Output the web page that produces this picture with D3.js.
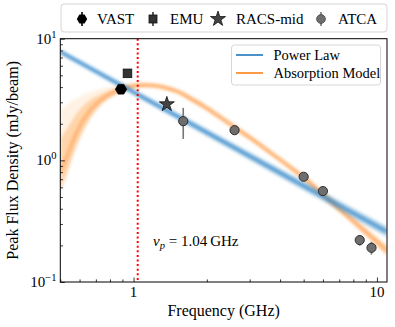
<!DOCTYPE html>
<html>
<head>
<meta charset="utf-8">
<script src="https://cdn.jsdelivr.net/npm/d3@7"></script>
<style>
  body { margin: 0; background: #fff; }
  svg { font-family: "Liberation Serif", "DejaVu Serif", serif; }
</style>
</head>
<body>
<div id="chart"></div>
<script>
// observations
var vastFreq = [0.888], vastFlux = [3.84];
var emuFreq = [0.944], emuFlux = [5.19];
var racsFreq = [1.37], racsFlux = [2.89], racsErr = [0.2];
var atcaFreq = [1.6, 2.6, 5.0, 6.0, 8.5, 9.5];
var atcaFlux = [2.1, 1.77, 0.733, 0.559, 0.221, 0.191];
var atcaErr = [0.6, 0.1, 0.04, 0.03, 0.022, 0.023];

// power law fit
var plFreq = [0.5, 11];
var plMid = [7.82, 0.259];
var plLo = [7.45, 0.236];
var plHi = [8.2, 0.285];

// absorption model band
var absFreq = [0.5, 0.53, 0.56, 0.6, 0.65, 0.7, 0.78, 0.89, 1.0, 1.1, 1.2, 1.35, 1.5, 1.7, 2.0, 2.3, 2.6, 3.0, 3.5, 4.2, 5.0, 6.0, 7.0, 8.5, 10, 11];
var absMid = [0.8, 1.05, 1.4, 1.9, 2.45, 2.9, 3.42, 3.84, 4.08, 4.15, 4.12, 3.95, 3.7, 3.25, 2.68, 2.22, 1.87, 1.54, 1.23, 0.94, 0.72, 0.523, 0.40, 0.285, 0.214, 0.181];
var absLo = [0.55, 0.75, 1.05, 1.5, 2.05, 2.55, 3.15, 3.62, 3.88, 3.97, 3.95, 3.78, 3.54, 3.09, 2.55, 2.11, 1.78, 1.46, 1.17, 0.893, 0.678, 0.49, 0.374, 0.265, 0.197, 0.165];
var absHi = [1.5, 1.8, 2.15, 2.6, 3.05, 3.35, 3.7, 4.05, 4.28, 4.34, 4.3, 4.13, 3.87, 3.43, 2.83, 2.34, 1.97, 1.62, 1.3, 0.99, 0.766, 0.558, 0.428, 0.306, 0.232, 0.198];
var absFaint = [2.6, 2.85, 3.1, 3.35, 3.6, 3.8, 4.0, 4.2, 4.35, 4.4, 4.35, 4.18, 3.92, 3.47, 2.86, 2.37, 2.0, 1.64, 1.31, 1.0, 0.775, 0.565, 0.433, 0.31, 0.235, 0.2];

var nuPeak = 1.04;
var xTicksMajor = [1, 10];
var yTicksMajor = [0.1, 1, 10];
var yTickExp = ["\u22121", "0", "1"];

var W = 395, H = 327;
var pLeft = 60.3, pRight = 387, pTop = 38.7, pBottom = 282;

var svg = d3.select("#chart").append("svg")
    .attr("width", W)
    .attr("height", H);

var defs = svg.append("defs");
defs.append("filter").attr("id", "blur").attr("x", "-5%").attr("y", "-20%").attr("width", "110%").attr("height", "140%")
  .append("feGaussianBlur").attr("stdDeviation", 1.4);
defs.append("clipPath").attr("id", "clip")
  .append("rect").attr("x", pLeft).attr("y", pTop).attr("width", pRight - pLeft).attr("height", pBottom - pTop);

var x = d3.scaleLog().domain([0.5, 11]).range([pLeft, pRight]);
var y = d3.scaleLog().domain([0.1, 10]).range([pBottom, pTop]);

var plot = svg.append("g").attr("clip-path", "url(#clip)");

function pts(fr, vals) { return fr.map(function(f, i) { return [f, vals[i]]; }); }
var line = d3.line().x(function(d) { return x(d[0]); }).y(function(d) { return y(d[1]); }).curve(d3.curveMonotoneX);
function band(fr, lo, hi) {
  return d3.area()
    .x(function(d) { return x(d[0]); })
    .y0(function(d) { return y(d[1]); })
    .y1(function(d) { return y(d[2]); })
    .curve(d3.curveMonotoneX)(fr.map(function(f, i) { return [f, lo[i], hi[i]]; }));
}

// absorption model
var orange = "#ff7f0e";
var gOr = plot.append("g").attr("filter", "url(#blur)");
gOr.append("path").attr("d", band(absFreq, absLo, absFaint)).attr("fill", orange).attr("opacity", 0.1);
gOr.append("path").attr("d", band(absFreq, absLo, absHi)).attr("fill", orange).attr("opacity", 0.26);
gOr.append("path").attr("d", line(pts(absFreq, absMid))).attr("fill", "none")
  .attr("stroke", orange).attr("stroke-width", 3).attr("opacity", 0.42);

// power law
var blue = "#1f77b4";
var gBl = plot.append("g").attr("filter", "url(#blur)");
gBl.append("path").attr("d", band(plFreq, plLo, plHi)).attr("fill", blue).attr("opacity", 0.35);
gBl.append("path").attr("d", line(pts(plFreq, plMid))).attr("fill", "none")
  .attr("stroke", "#3b8ed0").attr("stroke-width", 3.5).attr("opacity", 0.75);

// peak frequency
plot.append("line")
  .attr("x1", x(nuPeak)).attr("x2", x(nuPeak))
  .attr("y1", pTop).attr("y2", pBottom)
  .attr("stroke", "#ff0000").attr("stroke-width", 2)
  .attr("stroke-dasharray", "2,2.6");

svg.append("text")
  .attr("x", 153).attr("y", 246)
  .attr("font-size", 15)
  .html('<tspan font-style="italic">\u03bd</tspan><tspan font-style="italic" font-size="10.5" dy="3">p</tspan><tspan dy="-3"> = 1.04\u2009GHz</tspan>');

// markers
function hexPath(r) {
  var p = d3.path();
  for (var k = 0; k < 6; k++) {
    var a = Math.PI / 180 * (60 * k);
    if (k === 0) p.moveTo(r * Math.cos(a), r * Math.sin(a)); else p.lineTo(r * Math.cos(a), r * Math.sin(a));
  }
  p.closePath();
  return p.toString();
}
var errCol = "#777777";

// ATCA error bars
svg.append("g").selectAll("line")
  .data(pts(atcaFreq, atcaFlux))
  .enter().append("line")
    .attr("x1", function(d) { return x(d[0]); })
    .attr("x2", function(d) { return x(d[0]); })
    .attr("y1", function(d, i) { return y(d[1] + atcaErr[i]); })
    .attr("y2", function(d, i) { return y(d[1] - atcaErr[i]); })
    .attr("stroke", errCol).attr("stroke-width", 1.6);

svg.append("g").selectAll("line")
  .data(pts(racsFreq, racsFlux))
  .enter().append("line")
    .attr("x1", function(d) { return x(d[0]); })
    .attr("x2", function(d) { return x(d[0]); })
    .attr("y1", function(d, i) { return y(d[1] + racsErr[i]); })
    .attr("y2", function(d, i) { return y(d[1] - racsErr[i]); })
    .attr("stroke", errCol).attr("stroke-width", 1.6);

svg.append("g").selectAll("path")
  .data(pts(vastFreq, vastFlux))
  .enter().append("path")
    .attr("transform", function(d) { return "translate(" + x(d[0]) + "," + y(d[1]) + ")"; })
    .attr("d", hexPath(5.6))
    .attr("fill", "#000").attr("stroke", "#000").attr("stroke-width", 0.8);

svg.append("g").selectAll("rect")
  .data(pts(emuFreq, emuFlux))
  .enter().append("rect")
    .attr("x", function(d) { return x(d[0]) - 4.3; })
    .attr("y", function(d) { return y(d[1]) - 4.3; })
    .attr("width", 8.6).attr("height", 8.6)
    .attr("fill", "#333").attr("stroke", "#111").attr("stroke-width", 0.8);

svg.append("g").selectAll("path")
  .data(pts(racsFreq, racsFlux))
  .enter().append("path")
    .attr("transform", function(d) { return "translate(" + x(d[0]) + "," + y(d[1]) + ")"; })
    .attr("d", d3.symbol(d3.symbolStar, 70)())
    .attr("fill", "#444").attr("stroke", "#111").attr("stroke-width", 0.8);

svg.append("g").selectAll("circle")
  .data(pts(atcaFreq, atcaFlux))
  .enter().append("circle")
    .attr("cx", function(d) { return x(d[0]); })
    .attr("cy", function(d) { return y(d[1]); })
    .attr("r", 4.6)
    .attr("fill", "#6e6e6e").attr("stroke", "#222").attr("stroke-width", 0.9);

// axes
var minorX = [0.5, 0.6, 0.7, 0.8, 0.9, 2, 3, 4, 5, 6, 7, 8, 9];
var minorY = [];
[0.1, 1].forEach(function(b) { for (var k = 2; k <= 9; k++) minorY.push(b * k); });

svg.append("g").attr("transform", "translate(0," + pBottom + ")")
  .call(d3.axisBottom(x).tickValues(xTicksMajor).tickSize(-4.5).tickFormat(""))
  .call(function(g) { g.select(".domain").remove(); });
svg.append("g").attr("transform", "translate(0," + pBottom + ")")
  .call(d3.axisBottom(x).tickValues(minorX).tickSize(-2.6).tickFormat(""))
  .call(function(g) { g.select(".domain").remove(); });
svg.append("g").attr("transform", "translate(" + pLeft + ",0)")
  .call(d3.axisLeft(y).tickValues(yTicksMajor).tickSize(-4.5).tickFormat(""))
  .call(function(g) { g.select(".domain").remove(); });
svg.append("g").attr("transform", "translate(" + pLeft + ",0)")
  .call(d3.axisLeft(y).tickValues(minorY).tickSize(-2.6).tickFormat(""))
  .call(function(g) { g.select(".domain").remove(); });
svg.selectAll(".tick line").attr("stroke", "#000").attr("stroke-width", 0.8);

svg.append("rect")
  .attr("x", pLeft).attr("y", pTop)
  .attr("width", pRight - pLeft).attr("height", pBottom - pTop)
  .attr("fill", "none").attr("stroke", "#000").attr("stroke-width", 1);

// tick labels
svg.append("g").selectAll("text")
  .data(xTicksMajor)
  .enter().append("text")
    .attr("x", function(d) { return x(d); })
    .attr("y", 297)
    .attr("text-anchor", "middle")
    .attr("font-size", 15)
    .text(function(d) { return d; });

svg.append("g").selectAll("text")
  .data(yTicksMajor)
  .enter().append("text")
    .attr("x", 56.5)
    .attr("y", function(d) { return y(d) + 5; })
    .attr("text-anchor", "end")
    .attr("font-size", 15)
    .html(function(d, i) { return '10<tspan font-size="10.5" dy="-6">' + yTickExp[i] + '</tspan>'; });

// axis titles
svg.append("text")
  .attr("x", (pLeft + pRight) / 2)
  .attr("y", 316)
  .attr("text-anchor", "middle")
  .attr("font-size", 16)
  .text("Frequency (GHz)");

svg.append("text")
  .attr("transform", "rotate(-90)")
  .attr("x", -(pTop + pBottom) / 2)
  .attr("y", 18)
  .attr("text-anchor", "middle")
  .attr("font-size", 16)
  .text("Peak Flux Density (mJy/beam)");

// model legend
var lg = svg.append("g");
lg.append("rect").attr("x", 231.5).attr("y", 45).attr("width", 149).attr("height", 40).attr("rx", 3)
  .attr("fill", "#fff").attr("fill-opacity", 0.8).attr("stroke", "#cccccc").attr("stroke-width", 0.8);
[["Power Law", "#4a92c8", 55], ["Absorption Model", "#fb9a47", 73]].forEach(function(e) {
  lg.append("line").attr("x1", 236).attr("x2", 263).attr("y1", e[2]).attr("y2", e[2])
    .attr("stroke", e[1]).attr("stroke-width", 2);
  lg.append("text").attr("x", 273.5).attr("y", e[2] + 4.5).attr("font-size", 14.5).text(e[0]);
});

// data legend
var dl = svg.append("g");
dl.append("rect").attr("x", 61).attr("y", 4).attr("width", 326).attr("height", 28).attr("rx", 3)
  .attr("fill", "#fff").attr("stroke", "#cccccc").attr("stroke-width", 0.8);
var ly = 19;
function errTick(cx, col) {
  dl.append("line").attr("x1", cx).attr("x2", cx).attr("y1", ly - 7).attr("y2", ly + 7)
    .attr("stroke", col).attr("stroke-width", 1.6);
}
errTick(82, "#000");
dl.append("path").attr("transform", "translate(82," + ly + ")").attr("d", hexPath(5.2)).attr("fill", "#000");
dl.append("text").attr("x", 97).attr("y", ly + 5).attr("font-size", 15).text("VAST");
errTick(153, "#333");
dl.append("rect").attr("x", 149).attr("y", ly - 4).attr("width", 8).attr("height", 8).attr("fill", "#333").attr("stroke", "#111").attr("stroke-width", 0.8);
dl.append("text").attr("x", 170).attr("y", ly + 5).attr("font-size", 15).text("EMU");
dl.append("path").attr("transform", "translate(218," + ly + ")").attr("d", d3.symbol(d3.symbolStar, 70)())
  .attr("fill", "#444").attr("stroke", "#111").attr("stroke-width", 0.8);
dl.append("text").attr("x", 236).attr("y", ly + 5).attr("font-size", 15).text("RACS-mid");
errTick(321, errCol);
dl.append("circle").attr("cx", 321).attr("cy", ly).attr("r", 4.4).attr("fill", "#6e6e6e").attr("stroke", "#444").attr("stroke-width", 0.8);
dl.append("text").attr("x", 338).attr("y", ly + 5).attr("font-size", 15).text("ATCA");
</script>
</body>
</html>
